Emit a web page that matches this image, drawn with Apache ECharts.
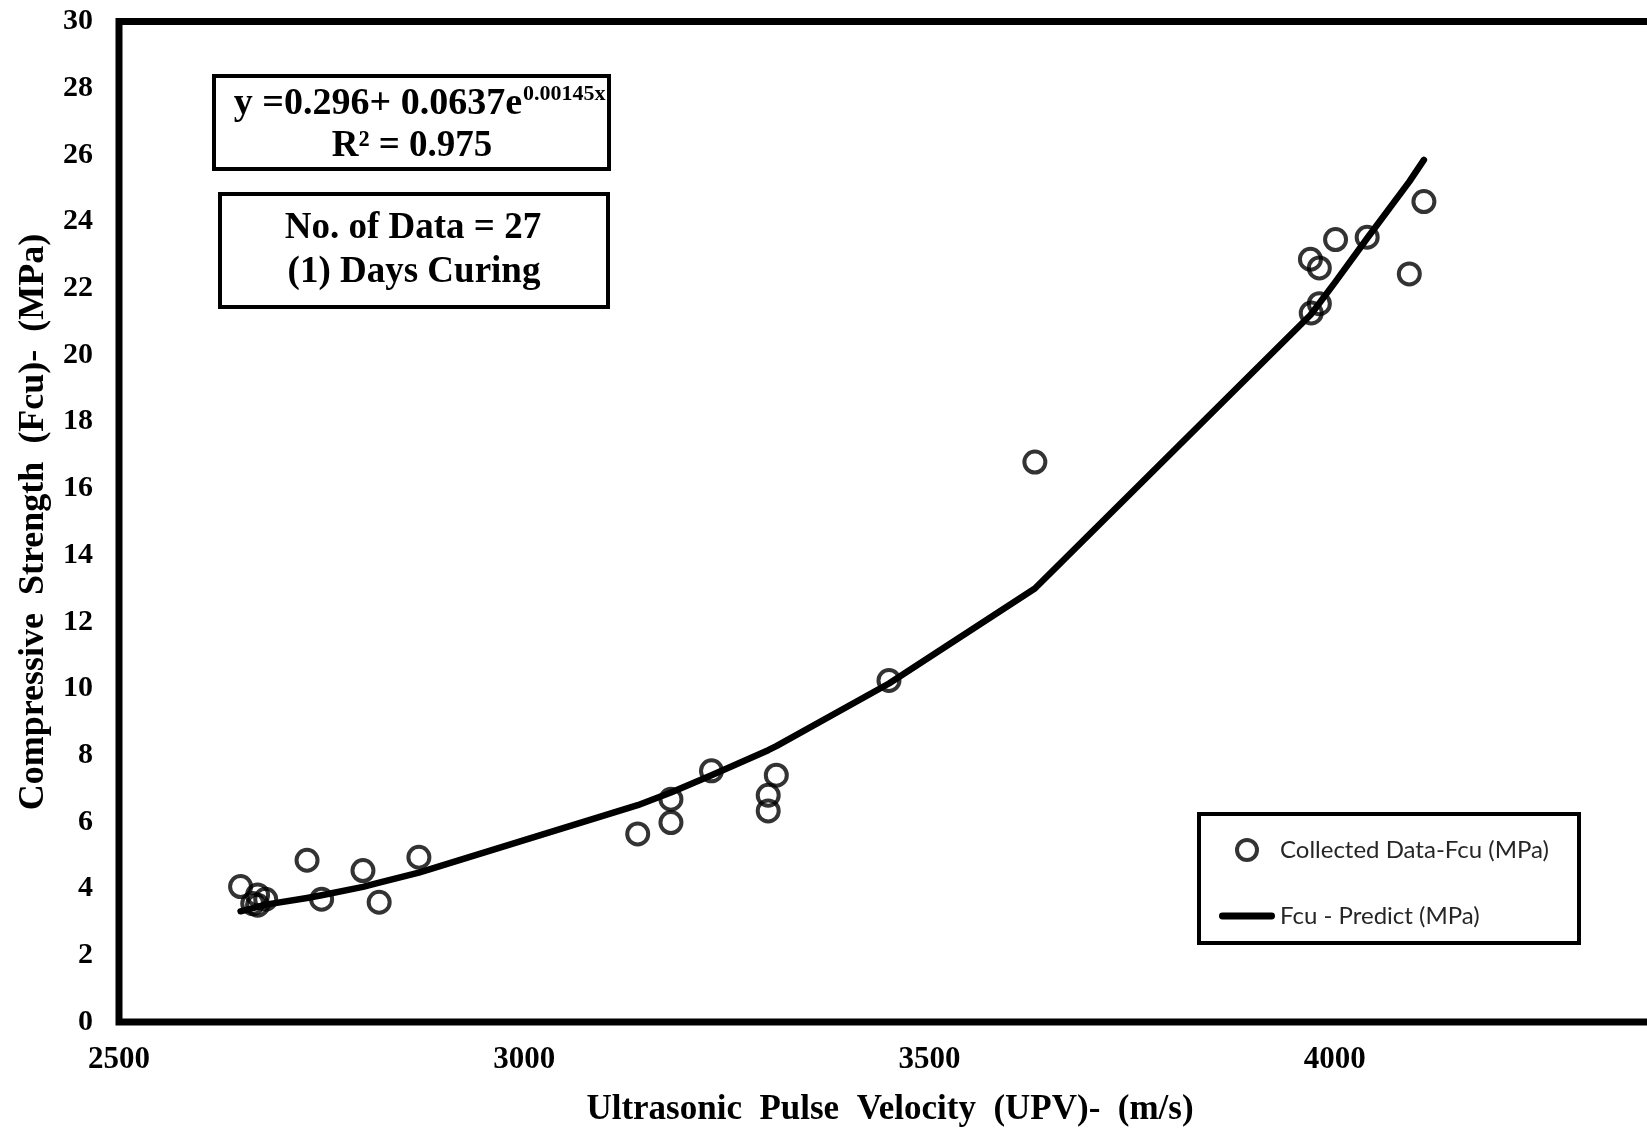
<!DOCTYPE html>
<html>
<head>
<meta charset="utf-8">
<script src="https://cdn.jsdelivr.net/npm/echarts@6/dist/echarts.min.js"></script>
<style>
  html, body { margin: 0; padding: 0; background: #fff; }
  #chart { width: 1647px; height: 1133px; }
</style>
</head>
<body>
<div id="chart"></div>
<script>
// Collected data (UPV m/s, Fcu MPa)
const collectedUPV = [2650, 2665, 2671, 2671, 2681, 2732, 2750, 2801, 2821, 2870,
  3140, 3181, 3181, 3231, 3301, 3301, 3311, 3450, 3630,
  3970, 3981, 3971, 3981, 4001, 4040, 4092, 4110];
const collectedFcu = [4.06, 3.55, 3.81, 3.50, 3.68, 4.85, 3.68, 4.54, 3.59, 4.94,
  5.64, 6.68, 5.98, 7.53, 6.80, 6.33, 7.40, 10.24, 16.79,
  22.87, 22.61, 21.26, 21.54, 23.46, 23.53, 22.43, 24.60];

// Predicted line vertices
const predictUPV = [2650, 2671, 2681, 2732, 2750, 2801, 2821, 2870, 3140, 3181, 3231,
  3301, 3311, 3450, 3630, 3970, 3981, 4001, 4040, 4092, 4110];
const predictFcu = [3.32, 3.45, 3.52, 3.72, 3.80, 4.05, 4.18, 4.48, 6.50, 6.88, 7.40,
  8.15, 8.27, 10.15, 13.0, 21.2, 21.55, 22.2, 23.5, 25.2, 25.85];

const seriesNames = ['Collected Data-Fcu (MPa)', 'Fcu - Predict (MPa)'];
const xTitle = 'Ultrasonic  Pulse  Velocity  (UPV)-  (m/s)';
const yTitle = 'Compressive  Strength  (Fcu)-  (MPa)';
const eqMain = 'y =0.296+ 0.0637e';
const eqSup = '0.00145x';
const r2Text = 'R\u00B2 = 0.975';
const infoLines = ['No. of Data = 27', '(1) Days Curing'];

const serif = "'Liberation Serif', 'Times New Roman', serif";
const chart = echarts.init(document.getElementById('chart'), null, { renderer: 'canvas' });

const option = {
  backgroundColor: '#fff',
  animation: false,
  grid: {
    left: 119, top: 21.5, right: -93, bottom: 111,
    containLabel: false, outerBoundsMode: 'none',
    show: true, borderColor: '#000', borderWidth: 7, backgroundColor: 'transparent'
  },
  xAxis: {
    type: 'value', min: 2500, max: 4500, interval: 500,
    axisLine: { show: false }, axisTick: { show: false }, splitLine: { show: false },
    axisLabel: { color: '#000', fontFamily: serif, fontWeight: 'bold', fontSize: 31, margin: 22,
      formatter: v => String(v) }
  },
  yAxis: {
    type: 'value', min: 0, max: 30, interval: 2,
    axisLine: { show: false }, axisTick: { show: false }, splitLine: { show: false },
    axisLabel: { color: '#000', fontFamily: serif, fontWeight: 'bold', fontSize: 30, margin: 26,
      formatter: v => String(v) }
  },
  legend: {
    orient: 'vertical', left: 1214, top: 833,
    itemWidth: 56, itemHeight: 20, itemGap: 42,
    textStyle: { fontFamily: "Lato, 'Liberation Sans', sans-serif", fontSize: 24, color: '#262626', lineHeight: 20 },
    data: [
      { name: seriesNames[0], itemStyle: { color: 'rgba(255,255,255,0)', borderColor: '#000', borderWidth: 4 } },
      { name: seriesNames[1], icon: 'path://M3,0 L53,0 A3.5,3.5 0 0 1 53,7 L3,7 A3.5,3.5 0 0 1 3,0 Z',
        itemStyle: { color: '#000', borderWidth: 0 } }
    ]
  },
  series: [
    {
      name: seriesNames[0], type: 'scatter', z: 2,
      symbol: 'circle', symbolSize: 21,
      itemStyle: { color: 'rgba(255,255,255,0)', borderColor: '#000', borderWidth: 4 },
      data: collectedUPV.map((x, i) => [x, collectedFcu[i]])
    },
    {
      name: seriesNames[1], type: 'line', z: 3,
      symbol: 'none',
      lineStyle: { color: '#000', width: 6.5, cap: 'round', join: 'round' },
      itemStyle: { color: '#000' },
      data: predictUPV.map((x, i) => [x, predictFcu[i]])
    }
  ],
  graphic: [
    { type: 'rect', shape: { x: 1199, y: 814, width: 380, height: 129 },
      style: { fill: 'transparent', stroke: '#000', lineWidth: 4 }, z: 1 },
    { type: 'rect', shape: { x: 214, y: 76, width: 395, height: 93 },
      style: { fill: '#fff', stroke: '#000', lineWidth: 4 }, z: 1 },
    { type: 'rect', shape: { x: 220, y: 194, width: 388, height: 113 },
      style: { fill: '#fff', stroke: '#000', lineWidth: 4 }, z: 1 },
    { type: 'text', z: 5, style: { x: 522, y: 104, text: eqMain, font: 'bold 38px ' + serif, fill: '#000',
      textAlign: 'right', textVerticalAlign: 'middle', align: 'right', verticalAlign: 'middle' } },
    { type: 'text', z: 5, style: { x: 523, y: 94, text: eqSup, font: 'bold 22px ' + serif, fill: '#000',
      textAlign: 'left', textVerticalAlign: 'middle', align: 'left', verticalAlign: 'middle' } },
    { type: 'text', z: 5, style: { x: 412, y: 146, text: r2Text, font: 'bold 37px ' + serif, fill: '#000',
      textAlign: 'center', textVerticalAlign: 'middle', align: 'center', verticalAlign: 'middle' } },
    { type: 'text', z: 5, style: { x: 413, y: 228, text: infoLines[0], font: 'bold 37px ' + serif, fill: '#000',
      textAlign: 'center', textVerticalAlign: 'middle', align: 'center', verticalAlign: 'middle' } },
    { type: 'text', z: 5, style: { x: 414, y: 272, text: infoLines[1], font: 'bold 37px ' + serif, fill: '#000',
      textAlign: 'center', textVerticalAlign: 'middle', align: 'center', verticalAlign: 'middle' } },
    { type: 'text', z: 5, style: { x: 890, y: 1110, text: xTitle, font: 'bold 35px ' + serif, fill: '#000',
      textAlign: 'center', textVerticalAlign: 'middle', align: 'center', verticalAlign: 'middle' } },
    { type: 'text', z: 5, x: 34, y: 522, rotation: Math.PI / 2,
      style: { x: 0, y: 0, text: yTitle, font: 'bold 36px ' + serif, fill: '#000',
      textAlign: 'center', textVerticalAlign: 'middle', align: 'center', verticalAlign: 'middle' } }
  ]
};
chart.setOption(option);
</script>
</body>
</html>
